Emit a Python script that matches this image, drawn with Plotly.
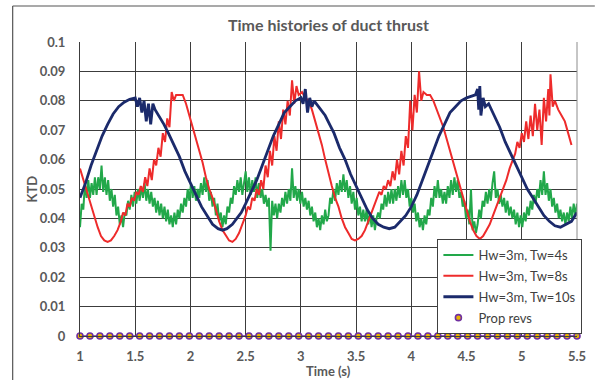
import plotly.graph_objects as go

# ---------------- data ----------------
green_t = [
    1.000,1.015,1.030,1.045,1.060,1.075,1.090,1.105,1.120,1.135,
    1.150,1.165,1.180,1.195,1.210,1.225,1.240,1.255,1.270,1.285,
    1.300,1.315,1.330,1.345,1.360,1.375,1.390,1.405,1.420,1.435,
    1.450,1.465,1.480,1.495,1.510,1.525,1.540,1.555,1.570,1.585,
    1.600,1.615,1.630,1.645,1.660,1.675,1.690,1.705,1.720,1.735,
    1.750,1.765,1.780,1.795,1.810,1.825,1.840,1.855,1.870,1.885,
    1.900,1.915,1.930,1.945,1.960,1.975,1.990,2.005,2.020,2.035,
    2.050,2.065,2.080,2.095,2.110,2.125,2.140,2.155,2.170,2.185,
    2.200,2.215,2.230,2.245,2.260,2.275,2.290,2.305,2.320,2.335,
    2.350,2.365,2.380,2.395,2.410,2.425,2.440,2.455,2.470,2.485,
    2.500,2.515,2.530,2.545,2.560,2.575,2.590,2.605,2.620,2.635,
    2.650,2.665,2.680,2.695,2.710,2.725,2.740,2.755,2.770,2.785,
    2.800,2.815,2.830,2.845,2.860,2.875,2.890,2.905,2.920,2.935,
    2.950,2.965,2.980,2.995,3.010,3.025,3.040,3.055,3.070,3.085,
    3.100,3.115,3.130,3.145,3.160,3.175,3.190,3.205,3.220,3.235,
    3.250,3.265,3.280,3.295,3.310,3.325,3.340,3.355,3.370,3.385,
    3.400,3.415,3.430,3.445,3.460,3.475,3.490,3.505,3.520,3.535,
    3.550,3.565,3.580,3.595,3.610,3.625,3.640,3.655,3.670,3.685,
    3.700,3.715,3.730,3.745,3.760,3.775,3.790,3.805,3.820,3.835,
    3.850,3.865,3.880,3.895,3.910,3.925,3.940,3.955,3.970,3.985,
    4.000,4.015,4.030,4.045,4.060,4.075,4.090,4.105,4.120,4.135,
    4.150,4.165,4.180,4.195,4.210,4.225,4.240,4.255,4.270,4.285,
    4.300,4.315,4.330,4.345,4.360,4.375,4.390,4.405,4.420,4.435,
    4.450,4.465,4.480,4.495,4.510,4.525,4.540,4.555,4.570,4.585,
    4.600,4.615,4.630,4.645,4.660,4.675,4.690,4.705,4.720,4.735,
    4.750,4.765,4.780,4.795,4.810,4.825,4.840,4.855,4.870,4.885,
    4.900,4.915,4.930,4.945,4.960,4.975,4.990,5.005,5.020,5.035,
    5.050,5.065,5.080,5.095,5.110,5.125,5.140,5.155,5.170,5.185,
    5.200,5.215,5.230,5.245,5.260,5.275,5.290,5.305,5.320,5.335,
    5.350,5.365,5.380,5.395,5.410,5.425,5.440,5.455,5.470,5.485,
    5.500]
green_v = [
    0.037,0.045,0.043,0.052,0.047,0.053,0.047,0.052,0.048,0.054,
    0.048,0.054,0.050,0.058,0.049,0.054,0.048,0.053,0.046,0.050,
    0.044,0.048,0.041,0.044,0.038,0.041,0.037,0.042,0.041,0.046,
    0.043,0.048,0.044,0.049,0.045,0.050,0.046,0.051,0.047,0.052,
    0.046,0.050,0.045,0.049,0.044,0.047,0.042,0.046,0.041,0.045,
    0.040,0.044,0.039,0.043,0.038,0.041,0.037,0.042,0.038,0.043,
    0.040,0.045,0.042,0.047,0.044,0.050,0.046,0.052,0.047,0.051,
    0.046,0.050,0.047,0.052,0.048,0.054,0.049,0.053,0.046,0.049,
    0.044,0.047,0.041,0.045,0.039,0.042,0.037,0.041,0.038,0.044,
    0.042,0.047,0.045,0.051,0.048,0.053,0.049,0.054,0.048,0.053,
    0.056,0.049,0.054,0.048,0.053,0.049,0.054,0.047,0.052,0.047,
    0.050,0.045,0.048,0.044,0.047,0.029,0.046,0.041,0.045,0.040,
    0.045,0.042,0.047,0.044,0.049,0.045,0.050,0.046,0.057,0.047,
    0.051,0.046,0.050,0.045,0.049,0.044,0.047,0.043,0.046,0.041,
    0.044,0.039,0.042,0.037,0.040,0.036,0.041,0.038,0.043,0.039,
    0.041,0.047,0.045,0.050,0.046,0.052,0.048,0.053,0.049,0.055,
    0.049,0.053,0.047,0.051,0.045,0.049,0.043,0.047,0.041,0.044,
    0.039,0.043,0.039,0.043,0.038,0.042,0.037,0.041,0.036,0.040,
    0.042,0.040,0.045,0.043,0.048,0.044,0.049,0.045,0.050,0.045,
    0.050,0.046,0.051,0.047,0.053,0.048,0.053,0.047,0.050,0.044,
    0.047,0.042,0.045,0.039,0.042,0.037,0.040,0.036,0.041,0.038,
    0.043,0.041,0.047,0.044,0.051,0.047,0.053,0.047,0.050,0.045,
    0.049,0.045,0.051,0.047,0.053,0.048,0.054,0.049,0.053,0.047,
    0.049,0.044,0.046,0.040,0.043,0.038,0.050,0.036,0.039,0.035,
    0.038,0.043,0.040,0.046,0.044,0.049,0.045,0.050,0.046,0.052,
    0.056,0.047,0.050,0.045,0.048,0.044,0.047,0.042,0.046,0.041,
    0.044,0.040,0.043,0.038,0.042,0.037,0.041,0.037,0.042,0.039,
    0.044,0.041,0.046,0.043,0.048,0.045,0.050,0.047,0.053,0.048,
    0.056,0.048,0.052,0.046,0.050,0.044,0.047,0.042,0.045,0.040,
    0.043,0.039,0.042,0.038,0.042,0.039,0.044,0.040,0.045,0.041,
    0.045]

red_t = [1.00,1.04,1.07,1.10,1.13,1.16,1.19,1.22,1.25,1.28,1.31,1.34,1.37,1.39,1.41,1.43,1.45,1.47,1.49,1.51,
         1.53,1.55,1.57,1.59,1.61,1.63,1.65,1.67,1.69,1.71,1.73,1.75,1.77,1.79,1.81,1.83,1.85,1.87,1.90,1.93,
         1.96,1.99,2.02,2.05,2.08,2.11,2.14,2.17,2.20,2.23,2.26,2.29,2.32,2.35,2.38,2.41,2.44,2.47,2.50,2.52,
         2.54,2.56,2.58,2.60,2.62,2.64,2.66,2.68,2.70,2.72,2.74,2.76,2.78,2.80,2.82,2.84,2.86,2.88,2.90,2.92,
         2.94,2.96,2.98,3.01,3.04,3.07,3.10,3.13,3.16,3.19,3.22,3.25,3.28,3.31,3.34,3.37,3.40,3.43,3.46,3.49,
         3.52,3.55,3.58,3.61,3.64,3.67,3.69,3.71,3.73,3.75,3.77,3.79,3.81,3.83,3.85,3.87,3.89,3.91,3.93,3.95,
         3.97,3.99,4.01,4.03,4.05,4.07,4.09,4.11,4.14,4.17,4.20,4.23,4.26,4.29,4.32,4.35,4.38,4.41,4.44,4.47,
         4.50,4.53,4.56,4.59,4.62,4.65,4.68,4.71,4.74,4.77,4.80,4.83,4.86,4.89,4.92,4.94,4.96,4.98,5.00,5.02,
         5.04,5.06,5.08,5.10,5.12,5.14,5.16,5.18,5.20,5.22,5.24,5.25,5.26,5.28,5.30,5.33,5.36,5.39,5.42,5.45]
red_v = [0.057,0.052,0.048,0.044,0.040,0.037,0.034,0.0325,0.032,0.0325,0.034,0.036,0.039,0.042,0.041,0.045,0.044,0.047,0.046,0.049,
         0.048,0.051,0.049,0.054,0.051,0.057,0.053,0.060,0.058,0.064,0.061,0.069,0.066,0.074,0.071,0.083,0.080,0.082,0.082,0.082,
         0.079,0.075,0.071,0.067,0.063,0.059,0.054,0.050,0.047,0.043,0.039,0.036,0.034,0.0325,0.032,0.033,0.035,0.038,0.041,0.044,
         0.043,0.047,0.046,0.050,0.048,0.053,0.050,0.058,0.054,0.063,0.058,0.068,0.063,0.073,0.067,0.077,0.072,0.080,0.075,0.087,
         0.079,0.085,0.082,0.083,0.081,0.080,0.077,0.073,0.069,0.065,0.060,0.055,0.051,0.047,0.044,0.040,0.037,0.035,0.033,0.0325,
         0.033,0.034,0.036,0.039,0.042,0.045,0.047,0.049,0.048,0.051,0.050,0.053,0.051,0.056,0.053,0.060,0.055,0.063,0.058,0.068,
         0.064,0.080,0.070,0.082,0.076,0.090,0.080,0.083,0.082,0.082,0.080,0.077,0.074,0.071,0.067,0.063,0.059,0.055,0.051,0.047,
         0.043,0.039,0.036,0.034,0.033,0.034,0.036,0.038,0.041,0.044,0.047,0.050,0.053,0.057,0.060,0.062,0.066,0.064,0.069,0.066,
         0.073,0.067,0.075,0.068,0.079,0.070,0.077,0.065,0.081,0.073,0.084,0.075,0.089,0.078,0.080,0.077,0.075,0.073,0.069,0.065]

navy_t = [1.00,1.05,1.10,1.15,1.20,1.25,1.30,1.35,1.40,1.45,1.50,1.52,1.54,1.56,1.58,1.60,1.62,1.64,1.66,1.68,
          1.72,1.76,1.80,1.85,1.90,1.95,2.00,2.05,2.10,2.15,2.20,2.25,2.29,2.33,2.38,2.42,2.46,2.50,2.55,2.60,
          2.65,2.70,2.75,2.80,2.85,2.90,2.95,3.00,3.02,3.04,3.06,3.08,3.10,3.12,3.14,3.18,3.22,3.26,3.30,3.35,
          3.40,3.45,3.50,3.55,3.60,3.65,3.70,3.75,3.80,3.85,3.90,3.95,4.00,4.05,4.10,4.15,4.20,4.25,4.30,4.35,
          4.40,4.45,4.50,4.55,4.58,4.60,4.61,4.62,4.63,4.65,4.67,4.70,4.75,4.80,4.85,4.90,4.95,5.00,5.05,5.10,
          5.15,5.20,5.25,5.30,5.35,5.40,5.45,5.50]
navy_v = [0.047,0.052,0.058,0.063,0.068,0.072,0.0755,0.078,0.0795,0.0805,0.081,0.078,0.081,0.076,0.080,0.073,0.079,0.072,0.079,0.077,
          0.0745,0.072,0.069,0.065,0.061,0.056,0.052,0.048,0.044,0.041,0.038,0.0365,0.036,0.0365,0.038,0.040,0.042,0.045,0.049,0.053,
          0.058,0.063,0.068,0.072,0.076,0.078,0.080,0.081,0.079,0.084,0.076,0.081,0.078,0.080,0.079,0.077,0.075,0.072,0.069,0.064,
          0.060,0.055,0.051,0.047,0.043,0.040,0.038,0.037,0.0365,0.037,0.039,0.041,0.044,0.048,0.053,0.058,0.063,0.068,0.072,0.076,
          0.078,0.080,0.081,0.0815,0.082,0.084,0.077,0.085,0.075,0.081,0.078,0.079,0.075,0.071,0.066,0.062,0.058,0.054,0.050,0.047,
          0.044,0.041,0.039,0.0375,0.037,0.038,0.039,0.042]

prop_t = [1.00,1.09,1.18,1.27,1.36,1.45,1.54,1.63,1.72,1.81,1.90,1.99,2.08,2.17,2.26,2.35,2.44,2.53,2.62,2.71,
          2.80,2.89,2.98,3.07,3.16,3.25,3.34,3.43,3.52,3.61,3.70,3.79,3.88,3.97,4.06,4.15,4.24,4.33,4.42,4.51,
          4.60,4.69,4.78,4.87,4.96,5.05,5.14,5.23,5.32,5.41,5.50]
prop_v = [0.0] * len(prop_t)

names = ["Hw=3m, Tw=4s", "Hw=3m, Tw=8s", "Hw=3m, Tw=10s", "Prop revs"]
title_text = "Time histories of duct thrust"
x_title = "Time (s)"
y_title = "KTD"

# ---------------- figure ----------------
FONT = "Lato"
TXT = "#595959"

fig = go.Figure()
fig.add_trace(go.Scatter(x=green_t, y=green_v, mode="lines", name=names[0], legendgroup="g1",
                         line=dict(color="#22A84A", width=2)))
fig.add_trace(go.Scatter(x=red_t, y=red_v, mode="lines", name=names[1], legendgroup="g2",
                         line=dict(color="#EE2B2B", width=2)))
fig.add_trace(go.Scatter(x=navy_t, y=navy_v, mode="lines", name=names[2], legendgroup="g3",
                         line=dict(color="#1B2A6B", width=2.8)))
fig.add_trace(go.Scatter(x=prop_t, y=prop_v, mode="lines", showlegend=False, cliponaxis=False,
                         line=dict(color="#7030A0", width=1.5), hoverinfo="skip"))
fig.add_trace(go.Scatter(x=prop_t, y=prop_v, mode="markers", name=names[3], legendgroup="g4", cliponaxis=False,
                         marker=dict(size=6, color="#E8B400", line=dict(color="#7030A0", width=1.6))))

fig.update_layout(
    width=598, height=380,
    margin=dict(l=80, r=16, t=42, b=44),
    paper_bgcolor="white", plot_bgcolor="white",
    font=dict(family=FONT, color=TXT, size=12),
    title=dict(text="<b>" + title_text + "</b>", x=0.5, xref="paper", xanchor="center",
               y=1 - 25 / 380, yref="container", yanchor="middle",
               font=dict(family=FONT, size=16, color=TXT)),
    showlegend=True,
    legend=dict(x=(441 - 80) / 502, y=(336 - 239) / 294, xanchor="left", yanchor="top",
                bgcolor="white", bordercolor="#404040", borderwidth=1,
                font=dict(family=FONT, size=13, color="#404040"),
                tracegroupgap=1, itemwidth=30),
)

fig.update_xaxes(range=[1, 5.5], dtick=0.5, tick0=1, showgrid=True, gridcolor="#3c3c3c", gridwidth=1,
                 zeroline=False, showline=True, linecolor="#3c3c3c", linewidth=1,
                 ticks="", ticklabelstandoff=8,
                 tickfont=dict(family=FONT, size=13, color=TXT, weight="bold"))
fig.update_yaxes(range=[0, 0.1], dtick=0.01, tick0=0, showgrid=True, gridcolor="#3c3c3c", gridwidth=1,
                 zeroline=False, showline=True, linecolor="#3c3c3c", linewidth=1,
                 ticks="", ticklabelstandoff=11,
                 tickfont=dict(family=FONT, size=13, color=TXT, weight="bold"))

# axis titles
fig.add_annotation(text="<b>" + y_title + "</b>", xref="paper", yref="paper",
                   x=(32 - 80) / 502, y=0.5, textangle=-90, showarrow=False,
                   font=dict(family=FONT, size=13, color=TXT), xanchor="center", yanchor="middle")
fig.add_annotation(text="<b>" + x_title + "</b>", xref="paper", yref="paper",
                   x=0.5, y=(336 - 371) / 294, showarrow=False,
                   font=dict(family=FONT, size=13, color=TXT), xanchor="center", yanchor="middle")

# right border of plot area and outer chart frame
fig.add_shape(type="line", xref="paper", yref="paper", x0=1, x1=1, y0=0, y1=1,
              line=dict(color="#8c8c8c", width=1))
fig.add_shape(type="line", xref="paper", yref="paper",
              x0=(12 - 80) / 502, x1=(600 - 80) / 502, y0=(336 - 6) / 294, y1=(336 - 6) / 294,
              line=dict(color="#555555", width=1.2))
fig.add_shape(type="line", xref="paper", yref="paper",
              x0=(12 - 80) / 502, x1=(12 - 80) / 502, y0=(336 - 6) / 294, y1=(336 - 385) / 294,
              line=dict(color="#555555", width=1.2))

fig.write_html("out.html")
